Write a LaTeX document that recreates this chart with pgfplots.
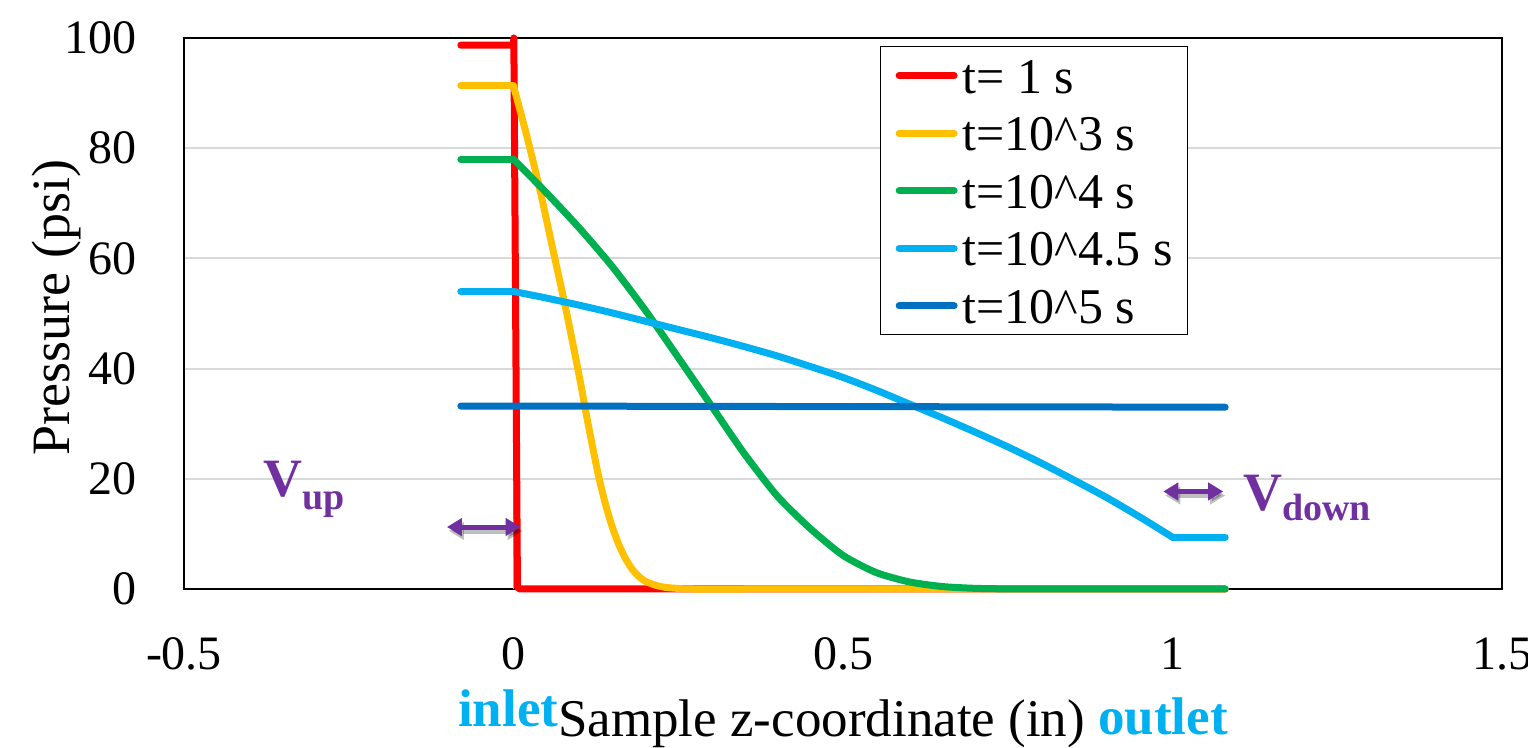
\documentclass[border=0pt]{standalone}
\usepackage{fontspec}
\setmainfont{Liberation Serif}
\usepackage{pgfplots}
\pgfplotsset{compat=1.18}
\usetikzlibrary{arrows.meta}
\definecolor{cRed}{HTML}{FF0000}
\definecolor{cYel}{HTML}{FFC000}
\definecolor{cGrn}{HTML}{00B050}
\definecolor{cCyan}{HTML}{00B0F0}
\definecolor{cBlue}{HTML}{0070C0}
\definecolor{cPur}{HTML}{7030A0}
\definecolor{cGrid}{HTML}{D9D9D9}
\begin{document}
\begin{tikzpicture}
\useasboundingbox (-92pt,-79.5pt) rectangle (672pt,294.5pt);
\begin{axis}[
  scale only axis, width=659pt, height=275.5pt,
  xmin=-0.5, xmax=1.5, ymin=0, ymax=100,
  xtick={-0.5,0,0.5,1,1.5}, ytick={0,20,40,60,80,100},
  major tick length=0pt,
  ymajorgrids, grid style={cGrid, line width=1pt},
  axis line style={black, line width=1pt},
  clip=false,
  /pgf/number format/assume math mode=true,
  tick label style={font=\fontsize{24}{28}\selectfont},
  xticklabel style={yshift=-21pt},
  yticklabel style={xshift=-20pt},
  xlabel={\raisebox{5pt}{\textcolor{cCyan}{\bfseries inlet}}Sample z-coordinate (in) \raisebox{1pt}{\textcolor{cCyan}{\bfseries outlet}}},
  xlabel style={at={(axis description cs:0.5,-0.2686)}, anchor=base, font=\fontsize{26.5}{30}\selectfont, inner sep=0pt},
  ylabel={Pressure (psi)},
  ylabel style={at={(axis description cs:-0.0964,0.511)}, anchor=center, font=\fontsize{27}{30}\selectfont, inner sep=0pt},
  legend cell align=left,
  legend style={at={(axis description cs:0.528,0.9855)}, anchor=north west, draw=black, line width=0.75pt, fill=white,
    font=\fontsize{25}{30}\selectfont, inner xsep=7.5pt, inner ysep=0pt,
    nodes={inner sep=0pt, text height=23.2pt, text depth=5.6pt},
    /tikz/every odd column/.style={column sep=2.5pt}},
  legend image code/.code={\draw[#1, line width=3.5pt, line cap=round] (0pt,0pt) -- (27.5pt,0pt);},
  every axis plot/.append style={line width=3.5pt, line cap=round, line join=round, mark=none},
]
\addlegendimage{cRed}\addlegendentry{t= 1 s}
\addlegendimage{cYel}\addlegendentry{t=10\^{}3 s}
\addlegendimage{cGrn}\addlegendentry{t=10\^{}4 s}
\addlegendimage{cCyan}\addlegendentry{t=10\^{}4.5 s}
\addlegendimage{cBlue}\addlegendentry{t=10\^{}5 s}

\draw[black!30, line width=0.75pt] (axis cs:0,0) -- (axis cs:0,100);

% t = 1 s
\addplot[cRed, forget plot] coordinates {
(-0.08,98.7) (0,98.7) (0.0005,100) (0.006,0.3) (0.01,0) (1.08,0)};
% t = 10^3 s
\addplot[cYel, forget plot] coordinates {(-0.08,91.3) (0,91.3)};
\addplot[cYel, forget plot, smooth, tension=0.4] coordinates {
(0,91.3) (0.02,82.3) (0.04,72.5) (0.06,61.5) (0.08,50.5)
(0.1,38.5) (0.11,32) (0.12,25.8) (0.13,20) (0.14,15.2) (0.15,11.2) (0.16,8)
(0.17,5.5) (0.18,3.6) (0.19,2.3) (0.2,1.4) (0.215,0.7) (0.23,0.3) (0.25,0.1)
(0.27,0) (0.4,0) (1.08,0)};
% t = 10^4 s
\addplot[cGrn, forget plot] coordinates {(-0.08,78) (0,78)};
\addplot[cGrn, forget plot, smooth, tension=0.4] coordinates {
(0,78) (0.05,71.9) (0.1,65.5) (0.15,58.5) (0.2,50.6) (0.25,42.0) (0.3,33.3)
(0.35,24.6) (0.4,16.9) (0.45,11.0) (0.5,6.1) (0.55,3.0) (0.6,1.3) (0.65,0.45)
(0.7,0.12) (0.75,0.02) (0.8,0) (0.9,0) (1.08,0)};
% t = 10^4.5 s
\addplot[cCyan, forget plot] coordinates {(-0.08,54) (0,54)};
\addplot[cCyan, forget plot, smooth, tension=0.4] coordinates {
(0,54) (0.05,52.8) (0.1,51.5) (0.15,50.1) (0.2,48.6) (0.25,47.1)
(0.3,45.6) (0.35,44.0) (0.4,42.3) (0.45,40.4) (0.5,38.4) (0.55,36.1) (0.6,33.6)
(0.65,31.1) (0.7,28.5) (0.75,25.8) (0.8,22.9) (0.85,19.8) (0.9,16.6) (0.95,13.1)
(1.0,9.4)};
\addplot[cCyan, forget plot] coordinates {(1.0,9.4) (1.08,9.4)};
% t = 10^5 s
\addplot[cBlue, forget plot] coordinates {
(-0.08,33.2) (0,33.2) (0.5,33.1) (1.08,33.0)};

% arrows
\draw[black, opacity=0.25, line width=2.5pt, {Triangle[length=7.5pt,width=8.5pt]}-{Triangle[length=7.5pt,width=8.5pt]}]
  ([xshift=1pt,yshift=-2pt]axis cs:-0.101,11.25) -- ([xshift=1pt,yshift=-2pt]axis cs:0.011,11.25);
\draw[cPur, line width=2.5pt, {Triangle[length=7.5pt,width=8.5pt]}-{Triangle[length=7.5pt,width=8.5pt]}]
  (axis cs:-0.101,11.25) -- (axis cs:0.011,11.25);
\draw[black, opacity=0.25, line width=2.5pt, {Triangle[length=7.5pt,width=8.5pt]}-{Triangle[length=7.5pt,width=8.5pt]}]
  ([xshift=1pt,yshift=-2pt]axis cs:0.986,17.7) -- ([xshift=1pt,yshift=-2pt]axis cs:1.077,17.7);
\draw[cPur, line width=2.5pt, {Triangle[length=7.5pt,width=8.5pt]}-{Triangle[length=7.5pt,width=8.5pt]}]
  (axis cs:0.986,17.7) -- (axis cs:1.077,17.7);

\node[anchor=base west, text=cPur, font=\fontsize{27}{30}\selectfont\bfseries, inner sep=0pt]
  at (axis cs:-0.380,16.7) {V\raisebox{-6.5pt}{\fontsize{19}{20}\selectfont up}};
\node[anchor=base west, text=cPur, font=\fontsize{27}{30}\selectfont\bfseries, inner sep=0pt]
  at (axis cs:1.107,14.3) {V\raisebox{-5pt}{\fontsize{19}{20}\selectfont down}};
\end{axis}
\end{tikzpicture}
\end{document}
